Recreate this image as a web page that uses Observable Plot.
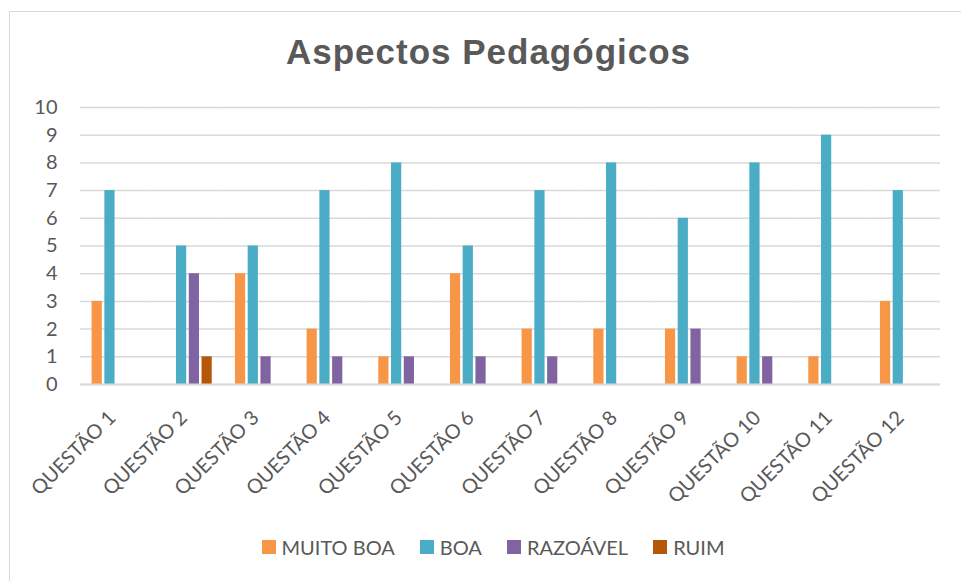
<!DOCTYPE html>
<html>
<head>
<meta charset="utf-8">
<script src="https://cdn.jsdelivr.net/npm/d3@7"></script>
<script src="https://cdn.jsdelivr.net/npm/@observablehq/plot@0.6"></script>
<style>
  html, body { margin: 0; padding: 0; background: #fff; }
  #wrap { position: relative; width: 961px; height: 581px; overflow: hidden; background: #fff; }
  #border { position: absolute; left: 9px; top: 11px; width: 1000px; height: 620px; border: 1.5px solid #D9D9D9; box-sizing: border-box; }
  #title { position: absolute; left: 0; width: 977px; top: 32px; text-align: center; font-family: "Liberation Sans", Arial, sans-serif; font-weight: bold; font-size: 35px; letter-spacing: 1px; color: #595959; line-height: 40px; }
  #chart { position: absolute; left: 0; top: 90px; }
  #legend { position: absolute; left: 0; width: 986px; top: 535px; display: flex; justify-content: center; gap: 25px; font-family: Lato, sans-serif; font-size: 20px; color: #595959; }
  .item { display: flex; align-items: center; gap: 6px; }
  .sw { width: 14px; height: 14px; display: inline-block; }
</style>
</head>
<body>
<div id="wrap">
  <div id="border"></div>
  <div id="title">Aspectos Pedagógicos</div>
  <div id="chart"></div>
  <div id="legend"></div>
</div>
<script>
const questions = ["QUESTÃO 1","QUESTÃO 2","QUESTÃO 3","QUESTÃO 4","QUESTÃO 5","QUESTÃO 6","QUESTÃO 7","QUESTÃO 8","QUESTÃO 9","QUESTÃO 10","QUESTÃO 11","QUESTÃO 12"];
const series = ["MUITO BOA","BOA","RAZOÁVEL","RUIM"];
const muitoBoa = [3,0,4,2,1,4,2,2,2,1,1,3];
const boa      = [7,5,5,7,8,5,7,8,6,8,9,7];
const razoavel = [0,4,1,1,1,1,1,0,2,1,0,0];
const ruim     = [0,1,0,0,0,0,0,0,0,0,0,0];
const colors = ["#F79646","#4BACC6","#8064A2","#B65708"];
const yTicks = [0,1,2,3,4,5,6,7,8,9,10];

const valuesBySeries = [muitoBoa, boa, razoavel, ruim];
const rows = [];
questions.forEach((q, i) => {
  series.forEach((s, j) => {
    rows.push({question: q, series: s, value: valuesBySeries[j][i]});
  });
});

const chart = Plot.plot({
  width: 961,
  height: 430,
  marginTop: 17,
  marginLeft: 80,
  marginRight: 21,
  marginBottom: 136,
  style: {fontFamily: "Lato, sans-serif", fontSize: "20px", color: "#595959", background: "transparent"},
  fx: {domain: questions, padding: 0, round: false, label: null},
  x: {domain: series, paddingInner: 0.2, paddingOuter: 0.91, round: false, axis: null},
  y: {domain: [0, 10], label: null},
  color: {domain: series, range: colors},
  marks: [
    Plot.gridY(yTicks, {stroke: "#D9D9D9", strokeOpacity: 1, strokeWidth: 1.5}),
    Plot.axisY(yTicks, {tickSize: 0, tickPadding: 23, label: null, fontSize: 20}),
    Plot.axisFx({anchor: "bottom", tickRotate: -45, tickSize: 0, tickPadding: 30, dx: -4, label: null, fontSize: 20}),
    Plot.barY(rows.filter(d => d.value > 0), {fx: "question", x: "series", y: "value", fill: "series"}),
    Plot.ruleY([0], {stroke: "#D9D9D9", strokeWidth: 2})
  ]
});
document.getElementById("chart").appendChild(chart);

const legend = document.getElementById("legend");
series.forEach((s, j) => {
  const item = document.createElement("div");
  item.className = "item";
  const sw = document.createElement("span");
  sw.className = "sw";
  sw.style.background = colors[j];
  const label = document.createElement("span");
  label.textContent = s;
  item.appendChild(sw);
  item.appendChild(label);
  legend.appendChild(item);
});
</script>
</body>
</html>
